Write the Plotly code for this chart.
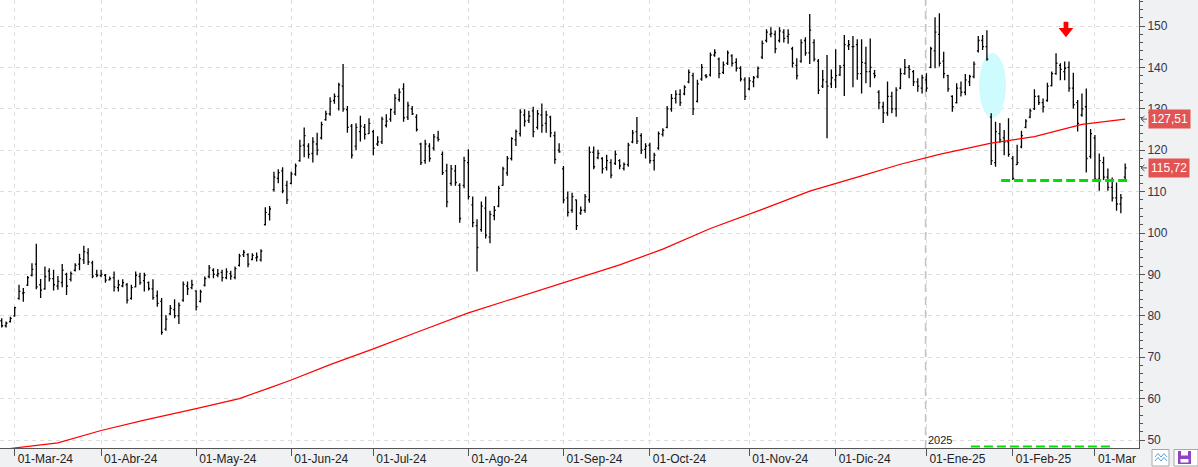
import pandas as pd
import plotly.graph_objects as go

# ---------------- data ----------------
holidays = ["2024-03-29", "2024-05-27", "2024-06-19", "2024-07-04", "2024-09-02",
            "2024-11-28", "2024-12-25", "2025-01-01", "2025-01-09", "2025-01-20",
            "2025-02-17"]
dates = [d for d in pd.bdate_range("2024-02-27", "2025-03-12")
         if d.strftime("%Y-%m-%d") not in holidays]

tick_labels = ["01-Mar-24", "01-Abr-24", "01-May-24", "01-Jun-24", "01-Jul-24",
               "01-Ago-24", "01-Sep-24", "01-Oct-24", "01-Nov-24", "01-Dic-24",
               "01-Ene-25", "01-Feb-25", "01-Mar"]

opens = [
    78.8, 77.6, 78.6, 80.0, 84.2, 85.5, 87.4, 89.8, 92.5, 87.5,
    86.5, 90.8, 89.0, 87.2, 88.0, 90.0, 88.8, 91.0, 92.5, 93.5,
    95.2, 92.8, 90.0, 89.7, 89.8, 88.7, 89.2, 86.8, 87.2, 87.5,
    84.2, 87.0, 89.5, 88.5, 88.0, 86.5, 84.8, 83.5, 76.8, 80.5,
    81.5, 80.0, 83.8, 87.2, 86.8, 86.0, 83.5, 87.4, 89.5, 91.0,
    89.8, 90.5, 89.2, 90.2, 89.3, 92.2, 94.8, 94.8, 93.6, 94.0,
    93.5, 102.0, 104.5, 110.5, 113.2, 115.0, 111.5, 112.0, 114.2, 117.5,
    121.2, 121.0, 119.2, 121.5, 123.0, 127.4, 128.8, 132.0, 133.0, 135.5,
    129.8, 125.8, 121.0, 124.5, 125.5, 124.0, 124.5, 121.5, 122.0, 126.0,
    127.5, 129.2, 132.2, 134.8, 128.0, 130.0, 128.0, 121.5, 117.5, 121.0,
    120.5, 123.0, 119.0, 115.0, 112.0, 115.0, 111.5, 111.5, 117.0, 106.8,
    101.8, 100.8, 106.0, 99.0, 104.2, 106.5, 111.5, 114.5, 118.0, 122.5,
    124.0, 128.5, 127.2, 129.5, 125.5, 128.5, 126.5, 128.0, 123.5, 120.0,
    115.5, 108.5, 105.5, 108.0, 104.8, 105.5, 108.0, 119.5, 118.2, 118.0,
    115.8, 117.0, 116.8, 117.5, 115.6, 116.5, 122.0, 124.5, 123.5, 120.2,
    121.2, 117.5, 120.5, 123.8, 125.5, 130.0, 132.5, 133.5, 133.6, 136.5,
    138.0, 131.8, 137.2, 138.0, 138.2, 143.0, 142.0, 138.8, 141.0, 142.8,
    141.2, 139.8, 137.0, 134.8, 136.5, 137.8, 142.5, 146.5, 148.0, 148.0,
    146.5, 148.5, 147.5, 144.5, 140.5, 141.5, 146.5, 143.5, 146.0, 141.5,
    135.5, 136.5, 136.0, 137.0, 138.2, 140.5, 145.2, 145.0, 145.5, 138.5,
    141.0, 139.0, 138.5, 134.0, 130.5, 129.0, 133.0, 130.0, 135.0, 138.5,
    140.0, 139.0, 136.5, 135.0, 137.0, 140.0, 144.0, 148.0, 141.5, 138.0,
    133.0, 131.5, 135.0, 134.0, 136.5, 137.8, 144.0, 146.5, 145.0, 128.0,
    117.0, 124.0, 123.0, 122.0, 118.0, 116.5, 120.8, 125.5, 128.0, 130.0,
    133.0, 131.5, 132.0, 135.6, 138.5, 140.5, 139.0, 140.0, 135.0, 131.5,
    128.5, 130.5, 118.5, 123.0, 113.0, 117.0, 113.5, 111.0, 108.5, 107.0, 113.5]

highs = [
    79.4, 78.6, 79.8, 82.2, 87.5, 86.7, 89.6, 92.7, 97.4, 88.9,
    91.9, 91.5, 91.1, 89.6, 92.5, 90.4, 90.7, 92.7, 95.0, 96.9,
    96.3, 93.3, 91.1, 91.1, 90.1, 89.5, 90.7, 88.7, 88.8, 87.9,
    87.5, 90.7, 90.4, 90.4, 88.3, 88.8, 86.1, 84.3, 80.2, 82.6,
    84.0, 83.2, 88.3, 88.3, 88.7, 86.1, 86.3, 89.5, 92.3, 91.5,
    91.3, 91.1, 91.5, 90.9, 91.9, 95.0, 95.9, 95.1, 95.1, 95.3,
    96.1, 106.2, 106.5, 114.8, 115.4, 115.9, 112.6, 114.8, 116.8, 122.5,
    125.5, 121.7, 123.1, 124.2, 126.9, 129.5, 132.8, 133.7, 136.3, 140.8,
    130.7, 126.3, 126.5, 128.3, 126.3, 127.7, 124.9, 123.4, 128.1, 128.7,
    130.1, 133.6, 134.9, 136.2, 131.7, 130.7, 128.7, 121.8, 122.5, 121.7,
    123.9, 124.7, 119.7, 116.7, 116.4, 116.4, 112.0, 118.4, 120.2, 108.8,
    103.3, 107.6, 108.8, 105.4, 106.5, 111.4, 116.0, 118.6, 123.1, 125.0,
    129.9, 129.9, 129.5, 130.5, 129.7, 131.3, 129.5, 128.3, 124.5, 121.7,
    116.2, 110.0, 109.7, 108.1, 106.4, 109.4, 120.9, 120.9, 120.1, 118.3,
    118.9, 117.8, 119.9, 117.8, 117.0, 121.8, 124.9, 128.0, 124.1, 121.7,
    121.8, 119.4, 124.5, 125.3, 130.7, 133.6, 134.5, 134.7, 135.7, 139.5,
    138.7, 137.0, 140.8, 138.4, 143.6, 144.4, 142.4, 141.4, 144.1, 143.2,
    142.2, 140.3, 137.6, 137.6, 137.9, 140.2, 146.5, 149.2, 149.7, 148.9,
    149.7, 149.2, 149.2, 145.0, 142.2, 146.8, 147.3, 152.9, 146.8, 142.0,
    139.4, 143.0, 139.5, 144.4, 140.6, 147.8, 146.6, 147.6, 146.8, 146.8,
    145.0, 147.0, 139.4, 134.5, 131.7, 136.6, 134.1, 135.2, 139.8, 142.0,
    140.6, 139.4, 137.4, 138.2, 138.6, 145.0, 152.1, 153.1, 143.8, 138.2,
    133.3, 136.2, 136.6, 138.4, 138.2, 141.4, 147.6, 147.8, 149.0, 128.9,
    126.9, 126.6, 124.9, 127.7, 118.6, 121.3, 124.7, 127.5, 130.1, 134.7,
    133.3, 132.5, 136.3, 139.0, 143.4, 141.0, 141.4, 141.4, 138.7, 132.1,
    133.7, 134.9, 125.1, 123.7, 119.2, 118.4, 115.6, 113.4, 112.2, 109.4, 116.8]

lows = [
    77.2, 77.2, 78.4, 79.8, 83.9, 83.4, 87.2, 89.5, 86.4, 84.3,
    86.3, 88.3, 86.1, 86.3, 86.9, 85.0, 88.3, 90.7, 91.0, 92.5,
    92.3, 89.1, 89.3, 89.3, 88.0, 88.5, 85.9, 85.9, 86.9, 83.0,
    83.9, 86.9, 87.5, 85.9, 86.1, 83.9, 82.2, 75.4, 76.4, 80.2,
    79.4, 78.0, 83.4, 85.0, 86.4, 81.3, 83.2, 87.1, 89.1, 89.1,
    89.3, 88.3, 88.8, 88.7, 88.8, 91.9, 94.2, 91.7, 93.4, 93.1,
    93.1, 101.8, 103.0, 110.0, 112.0, 109.6, 107.0, 111.8, 113.8, 117.2,
    118.3, 118.0, 117.0, 118.8, 122.6, 127.1, 128.3, 131.2, 129.6, 129.3,
    124.2, 118.0, 120.0, 122.1, 122.6, 123.9, 118.8, 121.0, 121.5, 125.5,
    126.9, 128.5, 131.7, 126.9, 127.3, 128.5, 124.5, 116.4, 116.7, 117.2,
    119.9, 122.1, 114.0, 106.2, 111.4, 111.4, 102.5, 110.8, 108.1, 101.4,
    90.7, 100.3, 98.7, 97.5, 103.1, 106.2, 111.4, 113.8, 117.5, 121.0,
    123.3, 125.7, 126.6, 123.1, 125.0, 124.2, 124.2, 123.1, 116.7, 119.4,
    107.2, 104.0, 104.9, 100.7, 104.4, 104.9, 107.3, 115.4, 117.8, 114.4,
    115.1, 113.2, 116.4, 115.4, 115.1, 116.0, 121.7, 121.5, 119.1, 118.0,
    116.8, 115.1, 120.1, 123.3, 125.3, 129.3, 131.3, 130.7, 133.3, 136.2,
    128.5, 131.5, 136.8, 137.4, 137.8, 142.6, 137.4, 138.4, 140.6, 140.2,
    139.0, 136.6, 132.1, 134.5, 135.2, 137.4, 142.0, 146.0, 147.3, 143.4,
    146.0, 146.0, 145.7, 140.0, 137.1, 141.1, 142.8, 140.8, 141.4, 133.6,
    135.0, 122.9, 135.0, 135.0, 137.9, 133.1, 144.2, 135.2, 137.0, 133.7,
    136.2, 135.2, 137.4, 129.9, 126.6, 128.3, 128.9, 128.1, 134.7, 138.2,
    137.4, 135.5, 134.1, 133.7, 134.1, 139.8, 139.8, 140.2, 137.4, 134.1,
    129.3, 131.3, 133.0, 133.3, 135.5, 137.4, 143.6, 144.2, 141.6, 116.4,
    116.0, 121.8, 118.8, 118.4, 112.8, 116.4, 120.5, 125.3, 127.7, 129.7,
    130.9, 129.1, 131.7, 135.4, 138.2, 136.9, 136.9, 134.1, 130.1, 124.5,
    128.1, 114.6, 118.0, 112.4, 110.2, 112.8, 110.2, 107.6, 105.4, 104.8, 112.8]

closes = [
    77.6, 78.2, 79.4, 82.0, 85.9, 85.6, 89.2, 91.2, 87.0, 86.2,
    89.5, 89.0, 87.5, 88.3, 91.0, 87.2, 90.2, 92.2, 93.8, 95.5,
    93.0, 89.6, 89.8, 90.0, 88.6, 89.0, 87.0, 87.5, 88.0, 83.8,
    86.8, 89.8, 88.0, 89.8, 86.6, 84.4, 83.0, 76.0, 79.2, 81.8,
    80.0, 82.5, 87.6, 86.5, 87.5, 82.2, 85.8, 89.0, 91.6, 90.0,
    90.2, 89.2, 90.6, 89.6, 91.4, 94.5, 95.3, 92.5, 94.6, 94.2,
    95.6, 105.0, 105.8, 113.5, 114.6, 110.2, 108.0, 114.2, 116.2, 121.0,
    123.5, 119.0, 122.0, 120.0, 126.2, 128.8, 131.8, 133.0, 135.8, 130.0,
    125.5, 118.8, 125.5, 125.8, 123.8, 126.5, 120.5, 122.0, 127.5, 127.0,
    129.8, 132.6, 134.0, 127.8, 130.8, 128.8, 125.0, 117.0, 121.5, 118.0,
    123.2, 122.6, 114.6, 107.5, 115.5, 112.2, 103.5, 117.5, 108.8, 102.5,
    96.5, 106.5, 99.5, 104.5, 105.5, 110.8, 115.5, 118.0, 122.8, 124.5,
    129.2, 127.0, 128.2, 124.5, 128.8, 126.0, 128.5, 124.2, 117.8, 119.6,
    108.0, 105.0, 108.8, 101.8, 105.5, 108.8, 119.5, 116.0, 119.2, 115.5,
    117.5, 114.0, 119.0, 116.2, 116.6, 121.2, 124.2, 122.2, 120.0, 121.0,
    117.5, 118.8, 124.0, 124.8, 130.0, 132.5, 133.5, 131.5, 135.2, 138.8,
    130.0, 136.0, 140.0, 137.8, 143.0, 143.6, 138.5, 140.6, 143.5, 141.0,
    139.8, 137.2, 133.0, 136.8, 137.5, 139.8, 145.8, 148.5, 148.2, 144.5,
    148.8, 147.0, 148.0, 141.0, 138.0, 146.0, 143.5, 149.0, 142.0, 134.5,
    137.0, 135.5, 137.5, 138.0, 140.0, 145.5, 145.5, 145.0, 138.5, 141.2,
    139.0, 140.0, 138.0, 131.5, 129.0, 133.0, 130.0, 134.5, 138.5, 140.0,
    139.5, 136.5, 135.5, 137.5, 135.0, 144.5, 148.5, 141.0, 138.5, 134.8,
    130.5, 135.0, 134.0, 137.0, 137.8, 140.8, 146.5, 145.0, 142.0, 117.5,
    124.5, 122.5, 122.0, 119.0, 113.2, 117.0, 123.5, 127.0, 129.5, 133.0,
    131.5, 130.5, 135.5, 138.5, 141.0, 139.5, 139.8, 135.0, 131.0, 126.5,
    130.0, 118.0, 124.0, 113.0, 117.5, 113.5, 111.0, 108.5, 107.0, 108.5, 115.72]

# moving average read at selected bars (bar index, value)
ma_idx = [0, 13, 23, 33, 45, 55, 62, 67, 76, 86, 97, 108, 117, 125, 134, 143,
          153, 164, 176, 187, 199, 208, 217, 229, 239, 250, 260]
ma_val = [47.7, 49.3, 52.3, 54.8, 57.6, 60.0, 62.6, 64.5, 68.2, 72.0, 76.4,
          80.7, 83.7, 86.4, 89.3, 92.3, 96.1, 101.1, 105.7, 110.1, 113.8,
          116.6, 119.0, 121.7, 123.3, 126.25, 127.51]

ma_last = 127.51
price_last = 115.72
support_level = 112.7

# ---------------- figure ----------------
x = list(range(len(dates)))
tickvals = []
seen = set()
for i, d in enumerate(dates):
    key = (d.year, d.month)
    if key not in seen:
        seen.add(key)
        if d >= pd.Timestamp("2024-03-01"):
            tickvals.append(i)
year_idx = [i for i, d in enumerate(dates) if d.year == 2025][0]

W, H = 1198, 467
ML, MR, MT, MB = 0, 59, 0, 19
PW, PH = W - ML - MR, H - MT - MB


def px(xp):
    return (xp - ML) / PW


def py(yp):
    return (MT + PH - yp) / PH


fig = go.Figure()
fig.add_trace(go.Ohlc(
    x=x, open=opens, high=highs, low=lows, close=closes,
    increasing=dict(line=dict(color="#000000", width=1.3)),
    decreasing=dict(line=dict(color="#000000", width=1.3)),
    tickwidth=0.32, hoverinfo="skip", showlegend=False))
fig.add_trace(go.Scatter(
    x=ma_idx, y=ma_val, mode="lines", line=dict(color="#ff0000", width=1.2),
    hoverinfo="skip", showlegend=False))

shapes = []
# cyan ellipse
shapes.append(dict(type="circle", xref="x", yref="y", x0=226.2, x1=232.4,
                   y0=127.8, y1=143.5, fillcolor="#cdfbfe",
                   line=dict(width=0), layer="between"))
# year separator
shapes.append(dict(type="line", xref="x", yref="paper", x0=year_idx - 0.2,
                   x1=year_idx - 0.2, y0=0, y1=1,
                   line=dict(color="#c4c4c4", width=1.5, dash="8px,5px"),
                   layer="between"))
# green dashed support line
shapes.append(dict(type="line", xref="x", yref="y", x0=231.3, x1=261.1,
                   y0=support_level, y1=support_level,
                   line=dict(color="#00e000", width=3, dash="9px,4px")))
shapes.append(dict(type="line", xref="x", yref="paper", x0=224.3, x1=257.2,
                   y0=py(446.5), y1=py(446.5),
                   line=dict(color="#00e000", width=2, dash="9px,4px")))
# red arrow
ax = 246.3
shapes.append(dict(type="path", xref="x", yref="y",
                   path=(f"M {ax-0.55},151.0 L {ax+0.55},151.0 L {ax+0.55},149.5 "
                         f"L {ax+1.7},149.5 L {ax},147.27 L {ax-1.7},149.5 "
                         f"L {ax-0.55},149.5 Z"),
                   fillcolor="#ff0000", line=dict(width=0)))
# small arrows next to price tags
for v in (ma_last, price_last):
    shapes.append(dict(type="path", xref="paper", yref="y",
                       path=(f"M {px(1144.5)},{v+0.75} L {px(1141)},{v} "
                             f"L {px(1144.5)},{v-0.75} M {px(1141)},{v} L {px(1147)},{v}"),
                       line=dict(color="#555555", width=1)))
# bottom-right buttons
shapes.append(dict(type="rect", xref="paper", yref="paper",
                   x0=px(1152), x1=px(1169), y0=py(466), y1=py(449.5),
                   fillcolor="#ffffff", line=dict(color="#a8a8a8", width=1)))
shapes.append(dict(type="path", xref="paper", yref="paper",
                   path=(f"M {px(1155)},{py(457)} L {px(1158)},{py(453.5)} L {px(1161)},{py(457)} "
                         f"L {px(1164)},{py(453.5)} L {px(1167)},{py(457)} "
                         f"M {px(1155)},{py(461)} L {px(1158)},{py(457.5)} L {px(1161)},{py(461)} "
                         f"L {px(1164)},{py(457.5)} L {px(1167)},{py(461)}"),
                   line=dict(color="#5b9bd5", width=1)))
shapes.append(dict(type="rect", xref="paper", yref="paper",
                   x0=px(1174), x1=px(1198), y0=py(466), y1=py(449.5),
                   fillcolor="#ffffff", line=dict(color="#a8a8a8", width=1)))
shapes.append(dict(type="rect", xref="paper", yref="paper",
                   x0=px(1178), x1=px(1191), y0=py(464), y1=py(451),
                   fillcolor="#8e44c4", line=dict(width=0)))
shapes.append(dict(type="rect", xref="paper", yref="paper",
                   x0=px(1181), x1=px(1188), y0=py(455.5), y1=py(451),
                   fillcolor="#ffffff", line=dict(width=0)))
shapes.append(dict(type="rect", xref="paper", yref="paper",
                   x0=px(1180.5), x1=px(1188.5), y0=py(462.5), y1=py(459),
                   fillcolor="#ffffff", line=dict(width=0)))

annotations = [
    dict(text="2025", xref="x", yref="paper", x=year_idx - 0.1, y=py(439.5),
         xanchor="left", yanchor="middle", showarrow=False,
         font=dict(family="Liberation Sans, Arial", size=11, color="#222222")),
]
for v, t in ((ma_last, "127,51"), (price_last, "115,72")):
    annotations.append(dict(text=t, xref="paper", yref="y", x=px(1148), y=v,
                            xanchor="left", yanchor="middle", showarrow=False,
                            bgcolor="#e25353", borderpad=2,
                            font=dict(family="Liberation Sans, Arial", size=12,
                                      color="#ffffff")))

fig.update_layout(
    width=W, height=H,
    margin=dict(l=ML, r=MR, t=MT, b=MB, pad=0),
    paper_bgcolor="#f0f1f3", plot_bgcolor="#ffffff",
    showlegend=False, hovermode=False,
    shapes=shapes, annotations=annotations,
    font=dict(family="Liberation Sans, Arial", size=12, color="#222222"),
    xaxis=dict(
        range=[-0.4, 263.2], rangeslider=dict(visible=False),
        tickmode="array", tickvals=tickvals, ticktext=tick_labels,
        ticks="outside", ticklen=7, tickcolor="#555555", tickwidth=1,
        ticklabelposition="outside right", ticklabelshift=2, ticklabelstandoff=0,
        tickfont=dict(family="Liberation Sans, Arial", size=12, color="#222222"),
        showgrid=True, gridcolor="#dcdcdc", griddash="4px,4px", gridwidth=1,
        showline=True, linecolor="#555555", linewidth=1, zeroline=False,
        fixedrange=True),
    yaxis=dict(
        side="right", range=[48.07, 156.28], tick0=0, dtick=10,
        ticks="outside", ticklen=5, tickcolor="#555555", tickwidth=1,
        minor=dict(dtick=2, ticks="outside", ticklen=3, tickcolor="#555555",
                   showgrid=False),
        tickfont=dict(family="Liberation Sans, Arial", size=12, color="#33334a"),
        showgrid=True, gridcolor="#dcdcdc", griddash="4px,4px", gridwidth=1,
        showline=True, linecolor="#555555", linewidth=1, zeroline=False,
        fixedrange=True),
)

fig.write_html("out.html")
